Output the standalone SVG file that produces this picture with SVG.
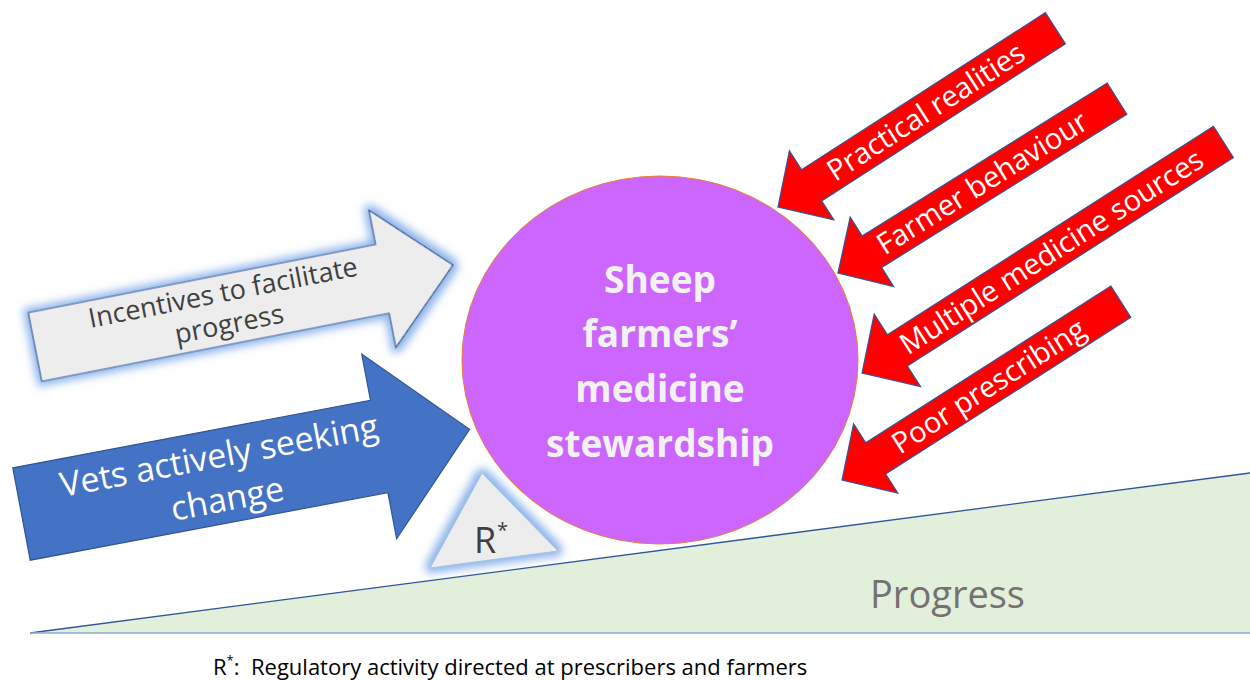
<svg xmlns="http://www.w3.org/2000/svg" width="1250" height="680" viewBox="0 0 1250 680">
<defs>
<filter id="glow" x="-20%" y="-40%" width="140%" height="180%">
<feMorphology in="SourceAlpha" operator="dilate" radius="4" result="d"/>
<feGaussianBlur in="d" stdDeviation="4" result="b"/>
<feFlood flood-color="#8db3ea"/>
<feComposite in2="b" operator="in" result="g"/>
<feMerge><feMergeNode in="g"/><feMergeNode in="SourceGraphic"/></feMerge>
</filter>
<style>
text{font-family:"Open Sans","Noto Sans","Liberation Sans",sans-serif}
.red{fill:#ff0000;stroke:#2f5597;stroke-width:1.2}
.redt{fill:#ffffff;font-size:29px;text-anchor:middle}
.circt{fill:#f2f2f2;font-size:37px;font-weight:bold;text-anchor:middle}
</style>
</defs>
<rect width="1250" height="680" fill="#ffffff"/>

<g id="progress">
<polygon points="30,633 1250,473 1250,633" fill="#e2efda"/>
<line x1="30" y1="633" x2="1250" y2="473" stroke="#2f5597" stroke-width="1.3"/>
<line x1="30" y1="633" x2="1250" y2="633" stroke="#8faadc" stroke-width="1.6"/>
<text x="870" y="608" font-size="38" fill="#767171">Progress</text>
</g>

<g id="incentives" transform="translate(35,347) rotate(-11.1)">
<polygon points="0,-35 354,-35 354,-70 426,0 354,70 354,35 0,35" fill="#ededed" stroke="#2f5597" stroke-width="1.2" filter="url(#glow)"/>
<text x="195" y="-8" font-size="27" fill="#404040" text-anchor="middle">Incentives to facilitate</text>
<text x="195" y="24" font-size="27" fill="#404040" text-anchor="middle">progress</text>
</g>

<g id="vets" transform="translate(21.5,514) rotate(-10.7)">
<polygon points="0,-47 364,-47 364,-94 456,0 364,94 364,47 0,47" fill="#4472c4" stroke="#2f5597" stroke-width="1.2"/>
<text x="205" y="-9" font-size="34" fill="#ffffff" text-anchor="middle">Vets actively seeking</text>
<text x="205" y="35" font-size="34" fill="#ffffff" text-anchor="middle">change</text>
</g>

<g id="regulatory">
<polygon points="482,473 558,551 430,568" fill="#ededed" stroke="#9dc3e6" stroke-width="1" filter="url(#glow)"/>
<text x="474" y="553" font-size="36" fill="#404040">R</text>
<text x="497" y="537" font-size="20" fill="#404040">*</text>
</g>

<g id="stewardship">
<ellipse cx="660" cy="360" rx="198" ry="184" fill="#cc66ff" stroke="#ed7d31" stroke-width="1"/>
<text class="circt" x="660" y="293">Sheep</text>
<text class="circt" x="660" y="347">farmers’</text>
<text class="circt" x="660" y="402">medicine</text>
<text class="circt" x="660" y="457">stewardship</text>
</g>

<g id="practical" transform="translate(778,207) rotate(-32.8)">
<polygon class="red" points="0,0 40,-41 40,-18.5 330,-18.5 330,18.5 40,18.5 40,41"/>
<text class="redt" x="176" y="10">Practical realities</text>
</g>

<g id="farmer" transform="translate(838,273) rotate(-32)">
<polygon class="red" points="0,0 40,-41 40,-18.5 329,-18.5 329,18.5 40,18.5 40,41"/>
<text class="redt" x="170" y="10">Farmer behaviour</text>
</g>

<g id="multiple" transform="translate(862,373) rotate(-32.6)">
<polygon class="red" points="0,0 42,-43 42,-18.5 429,-18.5 429,18.5 42,18.5 42,43"/>
<text class="redt" x="225" y="10">Multiple medicine sources</text>
</g>

<g id="poor" transform="translate(842,480) rotate(-32.6)">
<polygon class="red" points="0,0 40,-41 40,-18.5 331,-18.5 331,18.5 40,18.5 40,41"/>
<text class="redt" x="174" y="10">Poor prescribing</text>
</g>

<g id="connectors"></g>

<g id="footnote">
<text x="213" y="675" font-size="22" fill="#000000" style="white-space:pre" xml:space="preserve">R<tspan font-size="13" dy="-10">*</tspan><tspan dy="10">:  Regulatory activity directed at prescribers and farmers</tspan></text>
</g>
</svg>
